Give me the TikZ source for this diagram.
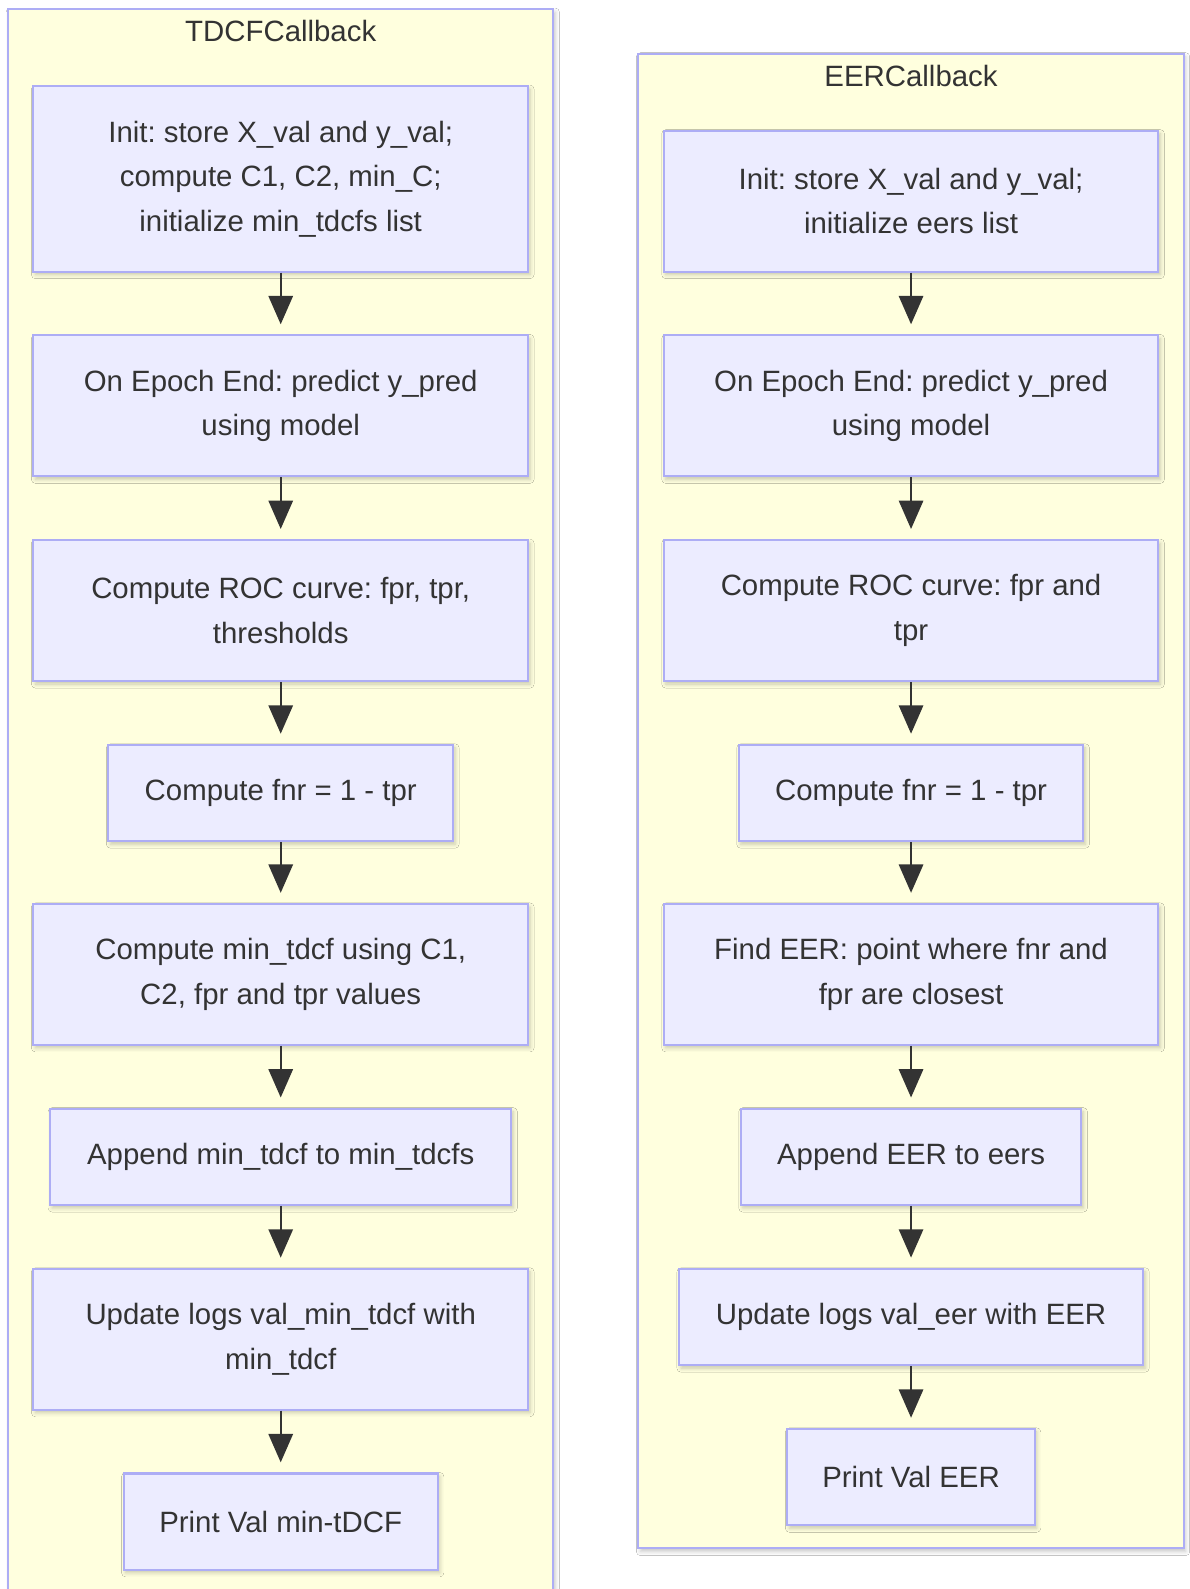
\documentclass[tikz,border=0pt]{standalone}
\usepackage{fontspec}
\setmainfont{Liberation Sans}
\usetikzlibrary{arrows.meta,shadows.blur}
\frenchspacing

\definecolor{clusterfill}{HTML}{FFFFDE}
\definecolor{edgeblue}{HTML}{ADADF5}
\definecolor{boxfill}{HTML}{ECECFF}
\definecolor{ink}{HTML}{333333}

\tikzset{
  softshadow/.style={blur shadow={shadow xshift=2pt, shadow yshift=-3pt,
      shadow blur radius=4pt, shadow opacity=22}},
  cluster/.style={draw=edgeblue, fill=clusterfill, line width=2pt, softshadow},
  stepbox/.style={draw=edgeblue, fill=boxfill, line width=2pt, align=center,
      inner sep=0pt, text=ink, font=\fontsize{29}{44}\selectfont, softshadow},
  title/.style={text=ink, font=\fontsize{29}{44}\selectfont, inner sep=0pt},
  flow/.style={draw=ink, line width=2pt, shorten >=10pt,
      -{Triangle[length=28pt,width=24pt]}},
}

\begin{document}
\begin{tikzpicture}[x=1pt,y=-1pt]
\useasboundingbox (0,0) rectangle (1174,1568);
\fill[white] (0,0) rectangle (1174,1568);

% the two callback groups
\draw[cluster] (8,9) rectangle (546,1620);
\draw[cluster] (630,53) rectangle (1168,1528);
\node[title] (ttdcf) at (277,31) {TDCFCallback};
\node[title] (teer) at (899,75) {EERCallback};

% TDCF callback steps
\node[stepbox, minimum width=488pt, minimum height=183pt] (l1) at (277,176.5)
  {Init: store X\_val and y\_val;\\compute C1, C2, min\_C;\\initialize min\_tdcfs list};
\node[stepbox, minimum width=488pt, minimum height=139pt] (l2) at (277,400.5)
  {On Epoch End: predict y\_pred\\using model};
\node[stepbox, minimum width=488pt, minimum height=139pt] (l3) at (277,602.5)
  {Compute ROC curve: fpr, tpr,\\thresholds};
\node[stepbox, minimum width=340pt, minimum height=95pt] (l4) at (277,782.5)
  {Compute fnr = 1 - tpr};
\node[stepbox, minimum width=488pt, minimum height=139pt] (l5) at (277,961.5)
  {Compute min\_tdcf using C1,\\C2, fpr and tpr values};
\node[stepbox, minimum width=455pt, minimum height=95pt] (l6) at (277,1141.5)
  {Append min\_tdcf to min\_tdcfs};
\node[stepbox, minimum width=488pt, minimum height=139pt] (l7) at (277,1321.5)
  {Update logs val\_min\_tdcf with\\min\_tdcf};
\node[stepbox, minimum width=310pt, minimum height=95pt] (l8) at (277,1501.5)
  {Print Val min-tDCF};

% EER callback steps
\node[stepbox, minimum width=488pt, minimum height=139pt] (r1) at (899,198.5)
  {Init: store X\_val and y\_val;\\initialize eers list};
\node[stepbox, minimum width=488pt, minimum height=139pt] (r2) at (899,400.5)
  {On Epoch End: predict y\_pred\\using model};
\node[stepbox, minimum width=488pt, minimum height=139pt] (r3) at (899,602.5)
  {Compute ROC curve: fpr and\\tpr};
\node[stepbox, minimum width=340pt, minimum height=95pt] (r4) at (899,782.5)
  {Compute fnr = 1 - tpr};
\node[stepbox, minimum width=488pt, minimum height=139pt] (r5) at (899,961.5)
  {Find EER: point where fnr and\\fpr are closest};
\node[stepbox, minimum width=336pt, minimum height=95pt] (r6) at (899,1141.5)
  {Append EER to eers};
\node[stepbox, minimum width=458pt, minimum height=95pt] (r7) at (899,1299.5)
  {Update logs val\_eer with EER};
\node[stepbox, minimum width=244pt, minimum height=95pt] (r8) at (899,1457.5)
  {Print Val EER};

% connectors
\foreach \a/\b in {l1/l2,l2/l3,l3/l4,l4/l5,l5/l6,l6/l7,l7/l8,
                   r1/r2,r2/r3,r3/r4,r4/r5,r5/r6,r6/r7,r7/r8}
  \draw[flow] (\a.south) -- (\b.north);
\end{tikzpicture}
\end{document}
